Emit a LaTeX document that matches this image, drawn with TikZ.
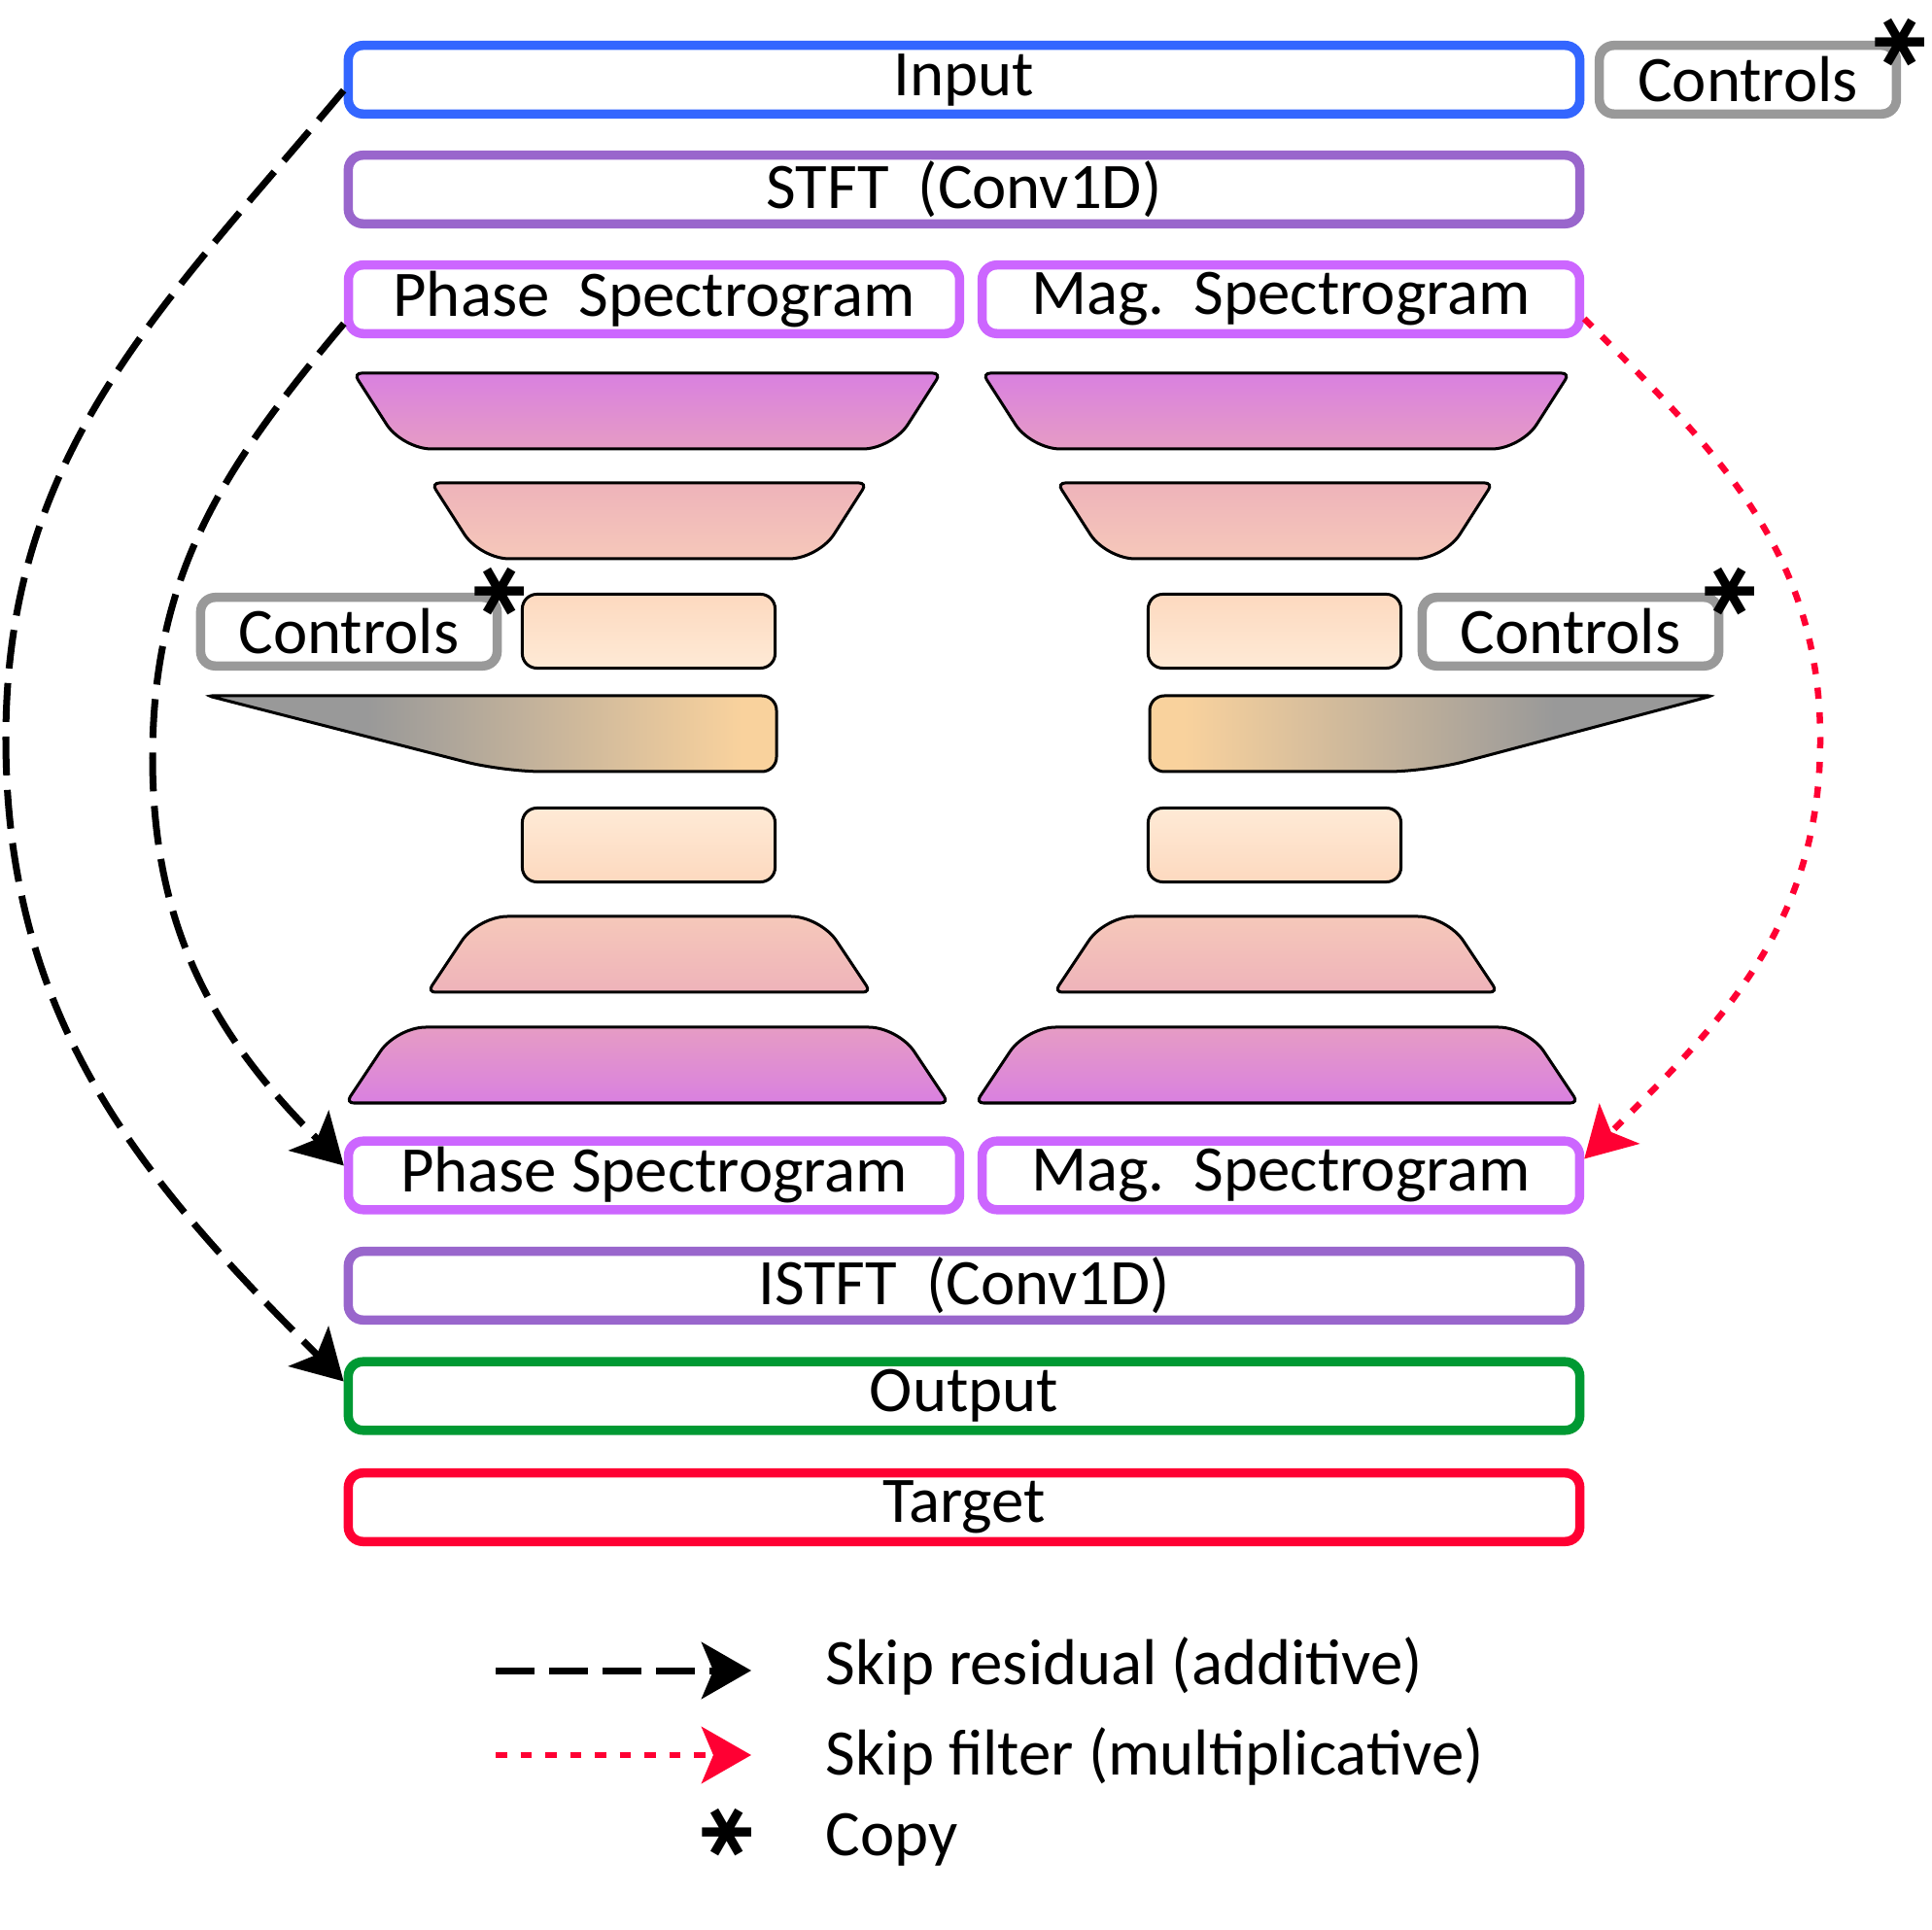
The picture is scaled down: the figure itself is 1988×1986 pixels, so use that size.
\documentclass[tikz,border=0pt]{standalone}
\usepackage{fontspec}
\setmainfont{Carlito}
\newfontfamily\markfont{DejaVu Sans Bold}
\usetikzlibrary{arrows.meta, positioning, calc}

\definecolor{inblue}{HTML}{3366FF}
\definecolor{stftpurple}{HTML}{9966CC}
\definecolor{specviolet}{HTML}{CC66FF}
\definecolor{ctrlgray}{HTML}{999999}
\definecolor{outgreen}{HTML}{009933}
\definecolor{tgtred}{HTML}{FF0033}
\definecolor{lyrA}{HTML}{D980E0}
\definecolor{lyrAb}{HTML}{E69CC4}
\definecolor{lyrB}{HTML}{EEB3BA}
\definecolor{lyrBb}{HTML}{F6C8BA}
\definecolor{lyrC}{HTML}{FDD9BF}
\definecolor{lyrCb}{HTML}{FEEAD6}
\definecolor{neckorange}{HTML}{F9D29D}

\pgfdeclarehorizontalshading{neckshade}{100bp}{color(0bp)=(ctrlgray); color(39bp)=(ctrlgray); color(72bp)=(neckorange); color(100bp)=(neckorange)}

\newcommand{\lbl}{\fontsize{19}{23}\selectfont}

% \layer{cx}{ytop}{ybot}{half top}{half bottom}{r top}{r bottom}{top colour}{bottom colour}
\newcommand{\layer}[9]{%
  \shadedraw[lyr, top color=#8, bottom color=#9]
    (#1,-#2) [rounded corners=#6] -- (#1+#4,-#2) [rounded corners=#7] -- (#1+#5,-#3)
    -- (#1-#5,-#3) [rounded corners=#6] -- (#1-#4,-#2) -- cycle;}

\begin{document}
\begin{tikzpicture}[x=0.01cm, y=0.01cm,
  blk/.style={draw, line width=0.095cm, rounded corners=0.15cm, minimum height=0.705cm, inner sep=0pt, font=\lbl},
  cell/.style={draw, line width=0.03cm, rounded corners=0.15cm, minimum width=2.6cm, minimum height=0.76cm, inner sep=0pt},
  lyr/.style={line width=0.03cm},
  copymark/.style={font=\markfont\fontsize{23}{23}\selectfont, inner sep=0pt, rotate=90},
  legtxt/.style={font=\lbl, anchor=base west, inner sep=0pt},
  skipres/.style={line width=0.07cm, dash pattern=on 0.4cm off 0.15cm, -{Stealth[length=0.51cm, width=0.58cm, inset=0.12cm]}},
  skipfilt/.style={line width=0.065cm, tgtred, dash pattern=on 0.115cm off 0.14cm, -{Stealth[length=0.51cm, width=0.58cm, inset=0.12cm]}}
]
\useasboundingbox (0,0) rectangle (1988,-1986);

% Top blocks
\node[blk, draw=inblue, minimum width=12.665cm]     (inp)  at (992,-82)    {Input};
\node[blk, draw=ctrlgray, minimum width=3.055cm]    (ctlT) at (1798.5,-82) {Controls};
\node[blk, draw=stftpurple, minimum width=12.665cm] (stft) at (992,-195)   {STFT\ \ (Conv1D)};
\node[blk, draw=specviolet, minimum width=6.285cm]  (phT)  at (673,-308)   {Phase\ \ Spectrogram};
\node[blk, draw=specviolet, minimum width=6.145cm]  (mgT)  at (1318,-308)  {Mag.\ \ Spectrogram};

% Encoder layers
\layer{666}{384}{462}{302}{252}{0.08cm}{0.3cm}{lyrA}{lyrAb}
\layer{1313}{384}{462}{302}{252}{0.08cm}{0.3cm}{lyrA}{lyrAb}
\layer{668}{497}{575}{224}{174}{0.08cm}{0.3cm}{lyrB}{lyrBb}
\layer{1312}{497}{575}{224}{174}{0.08cm}{0.3cm}{lyrB}{lyrBb}
\node[cell, top color=lyrC, bottom color=lyrCb] (encL) at (667.5,-649.5) {};
\node[cell, top color=lyrC, bottom color=lyrCb] (encR) at (1311.5,-649.5) {};

% Controls at the bottleneck
\node[blk, draw=ctrlgray, minimum width=3.05cm] (ctlL) at (359,-650)  {Controls};
\node[blk, draw=ctrlgray, minimum width=3.05cm] (ctlR) at (1616,-650) {Controls};

% Bottleneck
\shadedraw[lyr, shading=neckshade]
  (500,-716) [rounded corners=0.15cm] -- (799,-716) -- (799,-794) [rounded corners=0.4cm] -- (518,-794)
  [rounded corners=0.04cm] -- (214,-716) -- cycle;
\shadedraw[lyr, shading=neckshade, shading angle=180]
  (1480,-716) [rounded corners=0.04cm] -- (1762,-716) [rounded corners=0.4cm] -- (1468,-794)
  [rounded corners=0.15cm] -- (1183,-794) -- (1183,-716) -- cycle;

% Decoder layers
\node[cell, top color=lyrCb, bottom color=lyrC] (decL) at (667.5,-869.5) {};
\node[cell, top color=lyrCb, bottom color=lyrC] (decR) at (1311.5,-869.5) {};
\layer{668}{943}{1021}{176}{228}{0.3cm}{0.08cm}{lyrBb}{lyrB}
\layer{1313}{943}{1021}{176}{228}{0.3cm}{0.08cm}{lyrBb}{lyrB}
\layer{666}{1057}{1135}{258}{310}{0.3cm}{0.08cm}{lyrAb}{lyrA}
\layer{1314}{1057}{1135}{258}{310}{0.3cm}{0.08cm}{lyrAb}{lyrA}

% Bottom blocks
\node[blk, draw=specviolet, minimum width=6.285cm]  (phB)  at (673,-1209.5)  {Phase Spectrogram};
\node[blk, draw=specviolet, minimum width=6.145cm]  (mgB)  at (1318,-1209.5) {Mag.\ \ Spectrogram};
\node[blk, draw=stftpurple, minimum width=12.665cm] (istft) at (992,-1323)   {ISTFT\ \ (Conv1D)};
\node[blk, draw=outgreen, minimum width=12.665cm]   (outp) at (992,-1436.5)  {Output};
\node[blk, draw=tgtred, minimum width=12.665cm]     (tgt)  at (992,-1551)    {Target};

% Copy marks
\node[copymark] (cpT) at (1955,-44)  {∗};
\node[copymark] (cpL) at (514,-609)  {∗};
\node[copymark] (cpR) at (1780,-609) {∗};

% Skip connections
\coordinate (bendA) at (6,-760);
\coordinate (bendB) at (157,-780);
\coordinate (bendC) at (1873,-761);
\draw[skipres] ([yshift=-0.11cm]inp.west) to[out=230,in=90] (bendA) to[out=-90,in=135] ([yshift=0.15cm]outp.west);
\draw[skipres] ([yshift=-0.25cm]phT.west) to[out=230,in=90] (bendB) to[out=-90,in=135] ([yshift=0.1cm]phB.west);
\draw[skipfilt] ([yshift=-0.2cm]mgT.east) to[out=-45,in=90] (bendC) to[out=-90,in=45] ([yshift=0.17cm]mgB.east);

% Legend
\coordinate (lgA) at (510,-1719);
\coordinate (lgAe) at (773,-1719);
\coordinate (lgB) at (510,-1806);
\coordinate (lgBe) at (773,-1806);
\draw[skipres] (lgA) -- (lgAe);
\draw[skipfilt] (lgB) -- (lgBe);
\node[legtxt] (lgres)  at (849,-1733) {Skip residual (additive)};
\node[legtxt] (lgfilt) at (849,-1826) {Skip filter (multiplicative)};
\node[copymark] (cpLg) at (748,-1886) {∗};
\node[legtxt] (lgcopy) at (849,-1909) {Copy};

\end{tikzpicture}
\end{document}
